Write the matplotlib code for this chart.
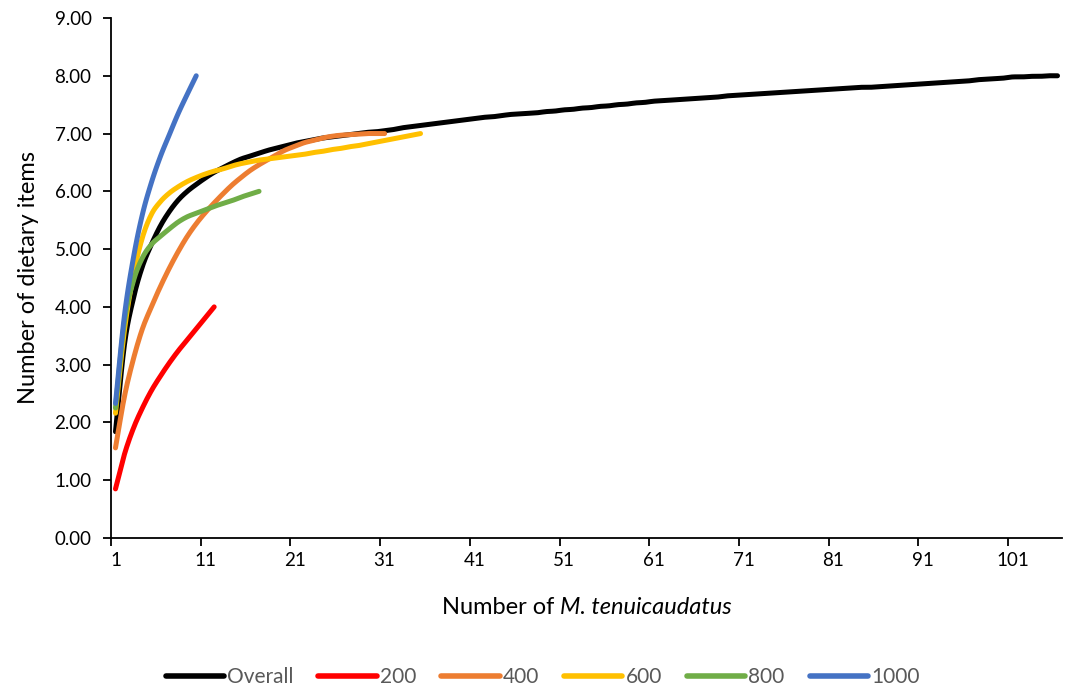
import numpy as np
import matplotlib
matplotlib.use("Agg")
import matplotlib.pyplot as plt
from matplotlib.lines import Line2D

# Rarefaction curves: cumulative number of dietary items per sample size
overall = [1.84, 3.35, 4.15, 4.70, 5.08, 5.40, 5.65, 5.85, 6.00, 6.12,
           6.23, 6.33, 6.41, 6.49, 6.56, 6.61, 6.66, 6.71, 6.75, 6.79,
           6.83, 6.86, 6.89, 6.92, 6.94, 6.96, 6.98, 7.00, 7.02, 7.03,
           7.05, 7.07, 7.10, 7.12, 7.14, 7.16, 7.18, 7.20, 7.22, 7.24,
           7.26, 7.28, 7.29, 7.31, 7.33, 7.34, 7.35, 7.36, 7.38, 7.39,
           7.41, 7.42, 7.44, 7.45, 7.47, 7.48, 7.50, 7.51, 7.53, 7.54,
           7.56, 7.57, 7.58, 7.59, 7.60, 7.61, 7.62, 7.63, 7.65, 7.66,
           7.67, 7.68, 7.69, 7.70, 7.71, 7.72, 7.73, 7.74, 7.75, 7.76,
           7.77, 7.78, 7.79, 7.80, 7.80, 7.81, 7.82, 7.83, 7.84, 7.85,
           7.86, 7.87, 7.88, 7.89, 7.90, 7.91, 7.93, 7.94, 7.95, 7.96,
           7.98, 7.98, 7.99, 7.99, 8.00, 8.00]
depth_200 = [0.85, 1.45, 1.90, 2.25, 2.55, 2.80, 3.03, 3.24, 3.43, 3.62,
             3.81, 4.00]
depth_400 = [1.56, 2.45, 3.10, 3.62, 4.00, 4.35, 4.67, 4.96, 5.22, 5.44,
             5.63, 5.80, 5.96, 6.11, 6.24, 6.36, 6.46, 6.55, 6.64, 6.72,
             6.78, 6.84, 6.88, 6.92, 6.95, 6.97, 6.98, 6.99, 7.00, 7.00,
             7.00]
depth_600 = [2.16, 3.60, 4.55, 5.20, 5.60, 5.82, 5.97, 6.08, 6.17, 6.24,
             6.30, 6.35, 6.39, 6.44, 6.48, 6.51, 6.54, 6.56, 6.58, 6.60,
             6.62, 6.64, 6.67, 6.69, 6.72, 6.74, 6.77, 6.79, 6.82, 6.85,
             6.88, 6.91, 6.94, 6.97, 7.00]
depth_800 = [2.25, 3.75, 4.45, 4.85, 5.08, 5.22, 5.35, 5.47, 5.56, 5.62,
             5.68, 5.74, 5.79, 5.84, 5.90, 5.95, 6.00]
depth_1000 = [2.33, 3.85, 4.85, 5.60, 6.15, 6.60, 6.98, 7.35, 7.68, 8.00]

series_names = ["Overall", "200", "400", "600", "800", "1000"]
series_values = [overall, depth_200, depth_400, depth_600, depth_800, depth_1000]
series_colors = ["#000000", "#FF0000", "#ED7D31", "#FFC000", "#70AD47", "#4472C4"]

x_tick_labels = ["1", "11", "21", "31", "41", "51", "61", "71", "81", "91", "101"]
y_ticks = [0, 1, 2, 3, 4, 5, 6, 7, 8, 9]
n_categories = 106

plt.rcParams["font.family"] = ["Lato", "DejaVu Sans"]


def smooth(xs, ys, steps=12):
    """Catmull-Rom spline through the points, like a smoothed line chart."""
    xs = np.asarray(xs, float)
    ys = np.asarray(ys, float)
    if len(xs) < 3:
        return xs, ys
    px = np.concatenate([[2 * xs[0] - xs[1]], xs, [2 * xs[-1] - xs[-2]]])
    py = np.concatenate([[2 * ys[0] - ys[1]], ys, [2 * ys[-1] - ys[-2]]])
    out_x, out_y = [xs[0]], [ys[0]]
    t = np.linspace(0, 1, steps + 1)[1:]
    for i in range(1, len(px) - 2):
        p0, p1, p2, p3 = px[i - 1], px[i], px[i + 1], px[i + 2]
        q0, q1, q2, q3 = py[i - 1], py[i], py[i + 1], py[i + 2]
        t2, t3 = t * t, t * t * t
        cx = 0.5 * (2 * p1 + (-p0 + p2) * t + (2 * p0 - 5 * p1 + 4 * p2 - p3) * t2
                    + (-p0 + 3 * p1 - 3 * p2 + p3) * t3)
        cy = 0.5 * (2 * q1 + (-q0 + q2) * t + (2 * q0 - 5 * q1 + 4 * q2 - q3) * t2
                    + (-q0 + 3 * q1 - 3 * q2 + q3) * t3)
        out_x.extend(cx)
        out_y.extend(cy)
    return np.array(out_x), np.array(out_y)


fig = plt.figure(figsize=(10.66, 6.93), dpi=100)
ax = fig.add_axes([111 / 1066, 155 / 693, 951 / 1066, 520 / 693])

for name, vals, color in zip(series_names, series_values, series_colors):
    xs = np.arange(1, len(vals) + 1)
    sx, sy = smooth(xs, vals)
    ax.plot(sx, sy, color=color, lw=3.6, solid_capstyle="round",
            solid_joinstyle="round", label=name)

ax.set_xlim(0.5, n_categories + 0.5)
ax.set_ylim(0, 9)

# category axis: tick marks on category boundaries, labels centred on categories
ax.set_xticks(np.arange(0.5, n_categories + 0.6, 10))
ax.set_xticklabels([])
ax.set_xticks([int(s) for s in x_tick_labels], minor=True)
ax.set_xticklabels(x_tick_labels, minor=True)
ax.tick_params(axis="x", which="major", direction="out", length=6, width=1.3,
               color="#000000")
ax.tick_params(axis="x", which="minor", length=0, pad=10, labelsize=13.5,
               labelcolor="#000000")

ax.set_yticks(y_ticks)
ax.set_yticklabels([f"{v:.2f}" for v in y_ticks])
ax.tick_params(axis="y", direction="out", length=6, width=1.3, pad=8,
               labelsize=13.5, color="#000000", labelcolor="#000000")

for side in ("top", "right"):
    ax.spines[side].set_visible(False)
for side in ("left", "bottom"):
    ax.spines[side].set_linewidth(1.3)
    ax.spines[side].set_color("#000000")

ax.set_ylabel("Number of dietary items", fontsize=17, labelpad=11)

# x-axis title: plain prefix followed by the italic species name
title_y = 1 - 607 / 693
part1 = fig.text(0.5, title_y, "Number of ", fontsize=17, ha="left", va="center")
fig.canvas.draw()
renderer = fig.canvas.get_renderer()
w1 = part1.get_window_extent(renderer).width
part2 = fig.text(0.5, title_y, "M. tenuicaudatus", fontsize=17, style="italic",
                 ha="left", va="center")
w2 = part2.get_window_extent(renderer).width
fig_w = fig.bbox.width
start = 587 / 1066 - (w1 + w2) / 2 / fig_w
part1.set_x(start)
part2.set_x(start + w1 / fig_w)

handles = [Line2D([0], [0], color=c, lw=4.0, solid_capstyle="round")
           for c in series_colors]
leg = fig.legend(handles, series_names, loc="center", bbox_to_anchor=(0.509, 0.023),
                 ncol=6, frameon=False, fontsize=15, handlelength=2.8,
                 handletextpad=0.15, columnspacing=1.2)
for txt in leg.get_texts():
    txt.set_color("#595959")

fig.savefig("out.png", dpi=100)
